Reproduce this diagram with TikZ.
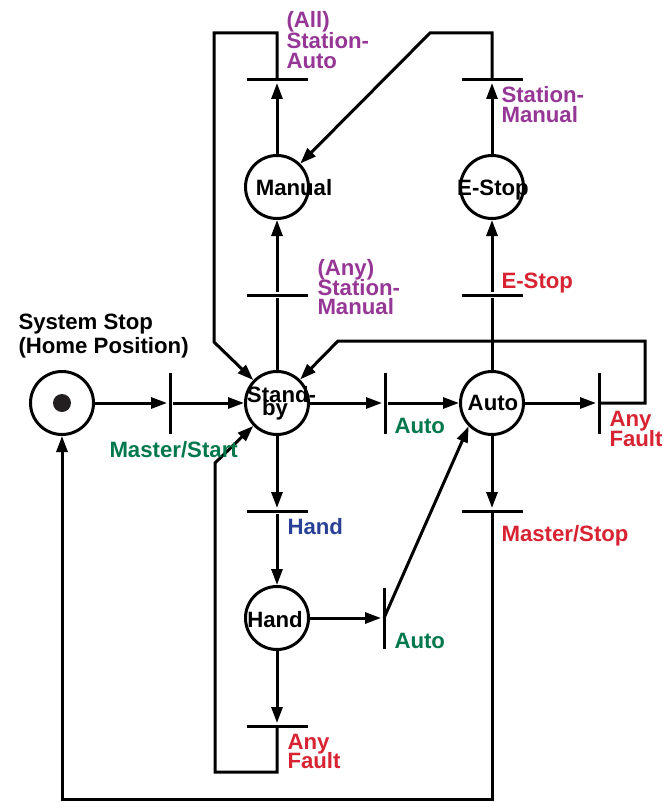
\documentclass[tikz,border=0pt]{standalone}
\usepackage{fontspec}
\setmainfont{Liberation Sans}
\usetikzlibrary{arrows.meta}
\definecolor{cpurple}{RGB}{150,55,150}
\definecolor{cgreen}{RGB}{0,120,75}
\definecolor{cred}{RGB}{215,35,50}
\definecolor{cblue}{RGB}{40,65,150}
\definecolor{cdot}{RGB}{35,31,32}
\begin{document}
\begin{tikzpicture}[x=1pt,y=-1pt,line width=3pt,
  place/.style={circle,draw,minimum size=63pt,inner sep=0pt},
  vbar/.style={rectangle,fill=black,minimum width=3pt,minimum height=61pt,inner sep=0pt},
  hbar/.style={rectangle,fill=black,minimum width=61pt,minimum height=3pt,inner sep=0pt},
  arr/.style={-{Triangle[length=16pt,width=11pt]}},
  lbl/.style={anchor=base west,inner sep=0pt,font=\fontsize{22.2}{20}\selectfont\bfseries},
  ctext/.style={anchor=base,inner sep=0pt,font=\fontsize{22.2}{20}\selectfont\bfseries}]
\useasboundingbox (0,0) rectangle (662,802);

% places
\node[place] (home) at (62,403) {};
\fill[cdot] (home.center) circle (9);
\node[place] (sb) at (277,403) {};
\node[place] (auto) at (492,403) {};
\node[place] (man) at (277,187) {};
\node[place] (es) at (492,187) {};
\node[place] (hand) at (277,618) {};

% place texts
\node[ctext] (sbT1) at (281.5,402) {Stand-};
\node[ctext] (sbT2) at (275,415) {by};
\node[ctext] (autoT) at (493,410) {Auto};
\node[ctext] (manT) at (294,196) {Manual};
\node[ctext] (esT) at (493,196) {E-Stop};
\node[ctext] (handT) at (275,627) {Hand};

% transitions
\node[vbar] (tMS) at (170,403) {};
\node[vbar] (tA1) at (385,403) {};
\node[vbar] (tAF1) at (599,403) {};
\node[hbar] (tMSt) at (492,511) {};
\node[hbar] (tH) at (277,511) {};
\node[vbar] (tA2) at (384,618) {};
\node[hbar] (tAF2) at (277,726) {};
\node[hbar] (tSM1) at (277,295) {};
\node[hbar] (tES) at (492,295) {};
\node[hbar] (tSA) at (277,80) {};
\node[hbar] (tSM2) at (492,80) {};

% bend points
\coordinate (r1) at (645,341);
\coordinate (r2) at (338,341);
\coordinate (c1) at (430,33);
\coordinate (c2) at (214,33);
\coordinate (c3) at (214,342);
\coordinate (c4) at (215,772);
\coordinate (c5) at (215,463);
\coordinate (c6) at (62,799.5);

% connectors
\draw[arr] (home) -- (tMS.west);
\draw[arr] (tMS) -- (sb);
\draw[arr] (sb) -- (tA1.west);
\draw[arr] (tA1) -- (auto);
\draw[arr] (auto) -- (tAF1.west);
\draw[arr] (tAF1.center) -| (r1) -- (r2) -- (sb);
\draw (auto) -- (tES);
\draw[arr] (tES) -- (es);
\draw[arr] (es) -- (tSM2.south);
\draw[arr] (tSM2.center) |- (c1) -- (man);
\draw[arr] (man) -- (tSA.south);
\draw[arr] (tSA.center) |- (c2) -- (c3) -- (sb);
\draw (sb) -- (tSM1);
\draw[arr] (tSM1) -- (man);
\draw[arr] (sb) -- (tH.north);
\draw[arr] (tH) -- (hand);
\draw[arr] (hand) -- (tA2.west);
\draw[arr] (tA2.center) -- (auto.south west);
\draw[arr] (hand) -- (tAF2.north);
\draw[arr] (tAF2.center) |- (c4) -- (c5) -- (sb);
\draw[arr] (auto) -- (tMSt.north);
\draw[arr] (tMSt.center) |- (c6) -- (home);

% labels
\node[lbl] (hl1) at (17,329) {System Stop};
\node[lbl] (hl2) at (17,353) {(Home Position)};
\node[lbl,text=cgreen] (lMS) at (108,457) {Master/Start};
\node[lbl,text=cgreen] (lA1) at (393,433) {Auto};
\node[lbl,text=cred] (lAF1a) at (608,426) {Any};
\node[lbl,text=cred] (lAF1b) at (608,446) {Fault};
\node[lbl,text=cred] (lMSt) at (500,541) {Master/Stop};
\node[lbl,text=cblue] (lH) at (286,534) {Hand};
\node[lbl,text=cgreen] (lA2) at (393,648) {Auto};
\node[lbl,text=cred] (lAF2a) at (286,749) {Any};
\node[lbl,text=cred] (lAF2b) at (286,768) {Fault};
\node[lbl,text=cpurple] (lSM1a) at (316,275) {(Any)};
\node[lbl,text=cpurple] (lSM1b) at (316,295) {Station-};
\node[lbl,text=cpurple] (lSM1c) at (316,314) {Manual};
\node[lbl,text=cred] (lES) at (500,288) {E-Stop};
\node[lbl,text=cpurple] (lSM2a) at (500,103) {Station-};
\node[lbl,text=cpurple] (lSM2b) at (500,123) {Manual};
\node[lbl,text=cpurple] (lSAa) at (285,28) {(All)};
\node[lbl,text=cpurple] (lSAb) at (285,49) {Station-};
\node[lbl,text=cpurple] (lSAc) at (285,69) {Auto};
\end{tikzpicture}
\end{document}
